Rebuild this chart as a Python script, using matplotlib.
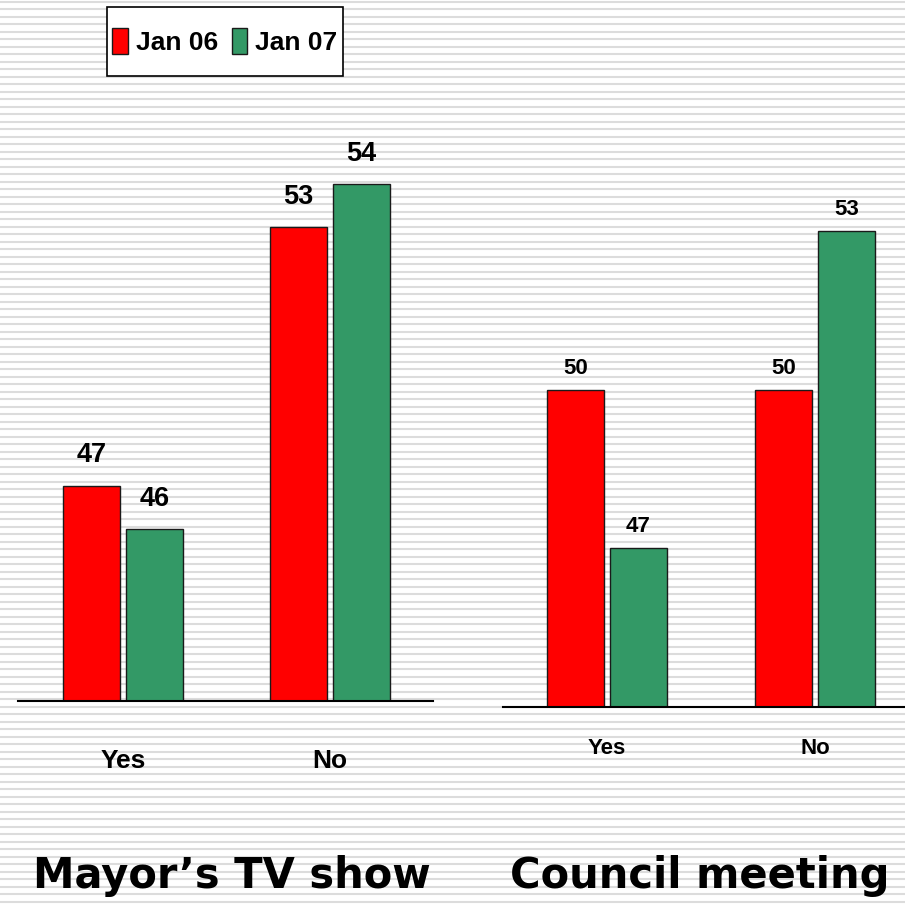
import matplotlib
matplotlib.use('Agg')
import matplotlib.pyplot as plt
import numpy as np
from matplotlib.patches import Patch, Rectangle

# ---------------- data ----------------
categories = ['Yes', 'No']
series_names = ['Jan 06', 'Jan 07']
tv_jan06 = [47, 53]
tv_jan07 = [46, 54]
council_jan06 = [50, 50]
council_jan07 = [47, 53]
panel_titles = ['Mayor\u2019s TV show', 'Council meeting']

# ---------------- style ----------------
RED = '#FF0000'
GREEN = '#339966'
EDGE = '#1a1a1a'
NARROW = ['Liberation Sans Narrow', 'Liberation Sans']
REGULAR = ['Liberation Sans', 'DejaVu Sans']

W, H = 905, 907
fig = plt.figure(figsize=(W / 100, H / 100), dpi=100)
fig.patch.set_facecolor('white')

# striped background
bg = fig.add_axes([0, 0, 1, 1], zorder=-10)
bg.set_xlim(0, W)
bg.set_ylim(H, 0)
bg.axis('off')
for yy in np.arange(1.7, H, 7.5):
    bg.axhline(yy, color='#dcdcdc', lw=1.5)


def px_axes(x0, x1, ytop, ybase):
    return fig.add_axes([x0 / W, (H - ybase) / H, (x1 - x0) / W, (ybase - ytop) / H])


def draw_panel(ax, s1, s2, ylim, xlim, width, off, fam, vsize, vgap, csize, cpad):
    x = np.arange(len(categories))
    b1 = ax.bar(x - off, s1, width=width, color=RED, edgecolor=EDGE, lw=1)
    b2 = ax.bar(x + off, s2, width=width, color=GREEN, edgecolor=EDGE, lw=1)
    ax.set_ylim(*ylim)
    ax.set_xlim(*xlim)
    ax.patch.set_facecolor('none')
    for sp in ['top', 'right', 'left']:
        ax.spines[sp].set_visible(False)
    ax.spines['bottom'].set_linewidth(1.5)
    ax.spines['bottom'].set_color('black')
    ax.set_yticks([])
    ax.set_xticks(x, categories)
    ax.tick_params(axis='x', length=0, pad=cpad)
    for lbl in ax.get_xticklabels():
        lbl.set_va('baseline')
        lbl.set_fontfamily(fam)
        lbl.set_fontsize(csize)
        lbl.set_fontweight('bold')
    for bars, vals in ((b1, s1), (b2, s2)):
        for r, v in zip(bars, vals):
            ax.annotate(str(v), xy=(r.get_x() + r.get_width() / 2, v),
                        xytext=(0, vgap), textcoords='offset points',
                        ha='center', va='baseline', fontsize=vsize,
                        fontweight='bold', family=fam)


# left panel: Mayor's TV show
ax1 = px_axes(18, 433, 100, 701)
draw_panel(ax1, tv_jan06, tv_jan07,
           ylim=(42, 42 + 601 / 43.1), xlim=(-0.507, 1.4976),
           width=57 / 207, off=31.5 / 207, fam=NARROW,
           vsize=19.5, vgap=16.6, csize=19, cpad=48.2)

# right panel: Council meeting
ax2 = px_axes(503, 905, 100, 707)
draw_panel(ax2, council_jan06, council_jan07,
           ylim=(44, 44 + 607 / 52.9), xlim=(-0.5, 1.4327),
           width=57 / 208, off=31.5 / 208, fam=REGULAR,
           vsize=16, vgap=11.5, csize=16, cpad=33.8)

# legend box (frame) and legend entries
lx0, lx1, ly0, ly1 = 107, 343, 7, 76
fig.add_artist(Rectangle((lx0 / W, 1 - ly1 / H), (lx1 - lx0) / W, (ly1 - ly0) / H,
                         transform=fig.transFigure, facecolor='white',
                         edgecolor='black', lw=1.2, zorder=4))
handles = [Patch(facecolor=RED, edgecolor=EDGE), Patch(facecolor=GREEN, edgecolor=EDGE)]
leg = fig.legend(handles, series_names, loc='center',
                 bbox_to_anchor=((lx0 + lx1) / 2 / W, 1 - (ly0 + ly1) / 2 / H), ncol=2,
                 frameon=False,
                 prop={'family': NARROW, 'weight': 'bold', 'size': 19},
                 handlelength=0.6, handleheight=1.15, handletextpad=0.3,
                 columnspacing=0.5, borderpad=0.0, borderaxespad=0)
leg.set_zorder(5)

# panel titles
for cx, t in zip([232, 700], panel_titles):
    fig.text(cx / W, (H - 888) / H, t, ha='center', va='baseline',
             fontsize=30, fontweight='bold', family='DejaVu Sans')

fig.savefig('out.png', dpi=100, facecolor='white')
